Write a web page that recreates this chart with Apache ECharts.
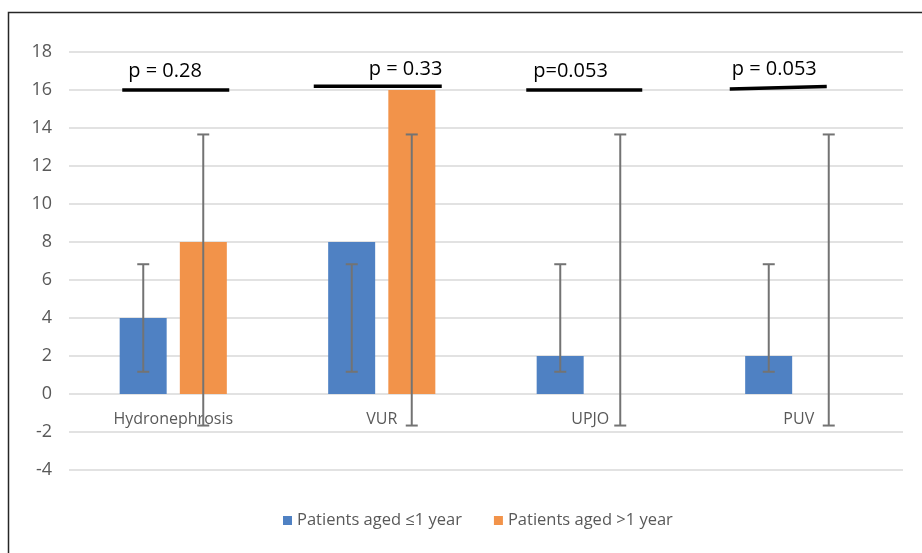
<!DOCTYPE html>
<html>
<head>
<meta charset="utf-8">
<script src="https://cdn.jsdelivr.net/npm/echarts@6/dist/echarts.min.js"></script>
<style>
html,body{margin:0;padding:0;background:#fff;}
#chart{width:922px;height:553px;}
</style>
</head>
<body>
<div id="chart"></div>
<script>
// ---- data ----
const categories = ['Hydronephrosis', 'VUR', 'UPJO', 'PUV'];
const seriesNames = ['Patients aged \u22641 year', 'Patients aged >1 year'];
const youngValues = [4, 8, 2, 2];
const olderValues = [8, 16, 0, 0];
const youngErrLow = [1.17, 1.17, 1.17, 1.17];
const youngErrHigh = [6.83, 6.83, 6.83, 6.83];
const olderErrLow = [-1.66, -1.66, -1.66, -1.66];
const olderErrHigh = [13.66, 13.66, 13.66, 13.66];
const pLabels = ['p = 0.28', 'p = 0.33', 'p=0.053', 'p = 0.053'];
const pLineLevel = [16, 16.2, 16, 16.05];
const yTicks = { min: -4, max: 18, interval: 2 };

// ---- styles / layout (annotation offsets in px relative to category centre) ----
const pAnnot = [
  { x1: -51, x2: 56, tilt: 0, tx: -45, ty: -19 },
  { x1: -68, x2: 60, tilt: 0, tx: -13, ty: -17 },
  { x1: -64, x2: 52, tilt: 0, tx: -57, ty: -19 },
  { x1: -69, x2: 28, tilt: -2.5, tx: -67, ty: -20 }
];
const barOffset = 30;

const chart = echarts.init(document.getElementById('chart'));

const errData = [];
for (let i = 0; i < categories.length; i++) {
  errData.push([i, youngErrLow[i], youngErrHigh[i], -1]);
  errData.push([i, olderErrLow[i], olderErrHigh[i], 1]);
}
const pData = categories.map((c, i) => [i, pLineLevel[i]]);
const catLabelData = categories.map((c, i) => [i, 0]);

chart.setOption({
  animation: false,
  backgroundColor: '#fff',
  textStyle: { fontFamily: 'Open Sans' },
  grid: { left: 69, right: 19, top: 52, bottom: 83 },
  legend: {
    data: seriesNames,
    left: 278, top: 507,
    icon: 'rect', itemWidth: 9, itemHeight: 9, itemGap: 32,
    textStyle: { color: '#595959', fontSize: 16.5, fontFamily: 'Open Sans' }
  },
  xAxis: {
    type: 'category',
    data: categories,
    axisLine: { show: false },
    axisTick: { show: false },
    axisLabel: { show: false },
    splitLine: { show: false }
  },
  yAxis: {
    type: 'value',
    min: yTicks.min, max: yTicks.max, interval: yTicks.interval,
    axisLine: { show: false },
    axisTick: { show: false },
    axisLabel: { color: '#595959', fontSize: 18, margin: 17, fontFamily: 'Open Sans' },
    splitLine: { lineStyle: { color: '#d9d9d9', width: 1.5 } }
  },
  graphic: [{
    type: 'polyline',
    shape: { points: [[8.5, 560], [8.5, 12.5], [930, 12.5]] },
    style: { stroke: '#262626', lineWidth: 1.5, fill: null },
    silent: true
  }],
  series: [
    {
      name: seriesNames[0], type: 'bar', data: youngValues,
      barWidth: 47, barGap: '28%',
      itemStyle: { color: '#4F81C3' }
    },
    {
      name: seriesNames[1], type: 'bar', data: olderValues,
      barWidth: 47, barGap: '28%',
      itemStyle: { color: '#F2934A' }
    },
    {
      type: 'custom', name: 'catLabels', data: catLabelData, z: 9, silent: true,
      renderItem: function (params, api) {
        const i = api.value(0);
        const c = api.coord([i, api.value(1)]);
        return {
          type: 'text', x: c[0], y: c[1] + 25,
          style: { text: categories[i], fill: '#595959', fontSize: 16, fontFamily: 'Open Sans',
                   textAlign: 'center', textVerticalAlign: 'middle' }
        };
      }
    },
    {
      type: 'custom', name: 'err', data: errData, z: 10, silent: true,
      renderItem: function (params, api) {
        const i = api.value(0), sgn = api.value(3);
        const lo = api.coord([i, api.value(1)]);
        const hi = api.coord([i, api.value(2)]);
        const x = lo[0] + sgn * barOffset;
        const cap = 6;
        const st = { stroke: '#737373', lineWidth: 2, fill: null };
        return {
          type: 'group',
          children: [
            { type: 'line', shape: { x1: x, y1: lo[1], x2: x, y2: hi[1] }, style: st },
            { type: 'line', shape: { x1: x - cap, y1: lo[1], x2: x + cap, y2: lo[1] }, style: st },
            { type: 'line', shape: { x1: x - cap, y1: hi[1], x2: x + cap, y2: hi[1] }, style: st }
          ]
        };
      }
    },
    {
      type: 'custom', name: 'pvals', data: pData, z: 11, silent: true,
      renderItem: function (params, api) {
        const i = api.value(0);
        const c = api.coord([i, api.value(1)]);
        const a = pAnnot[i];
        return {
          type: 'group',
          children: [
            { type: 'line', shape: { x1: c[0] + a.x1, y1: c[1], x2: c[0] + a.x2, y2: c[1] + a.tilt },
              style: { stroke: '#000', lineWidth: 3.5 } },
            { type: 'text', x: c[0] + a.tx, y: c[1] + a.ty,
              style: { text: pLabels[i], fill: '#000', fontSize: 20, fontFamily: 'Open Sans',
                       textAlign: 'left', textVerticalAlign: 'middle' } }
          ]
        };
      }
    }
  ]
});
</script>
</body>
</html>
